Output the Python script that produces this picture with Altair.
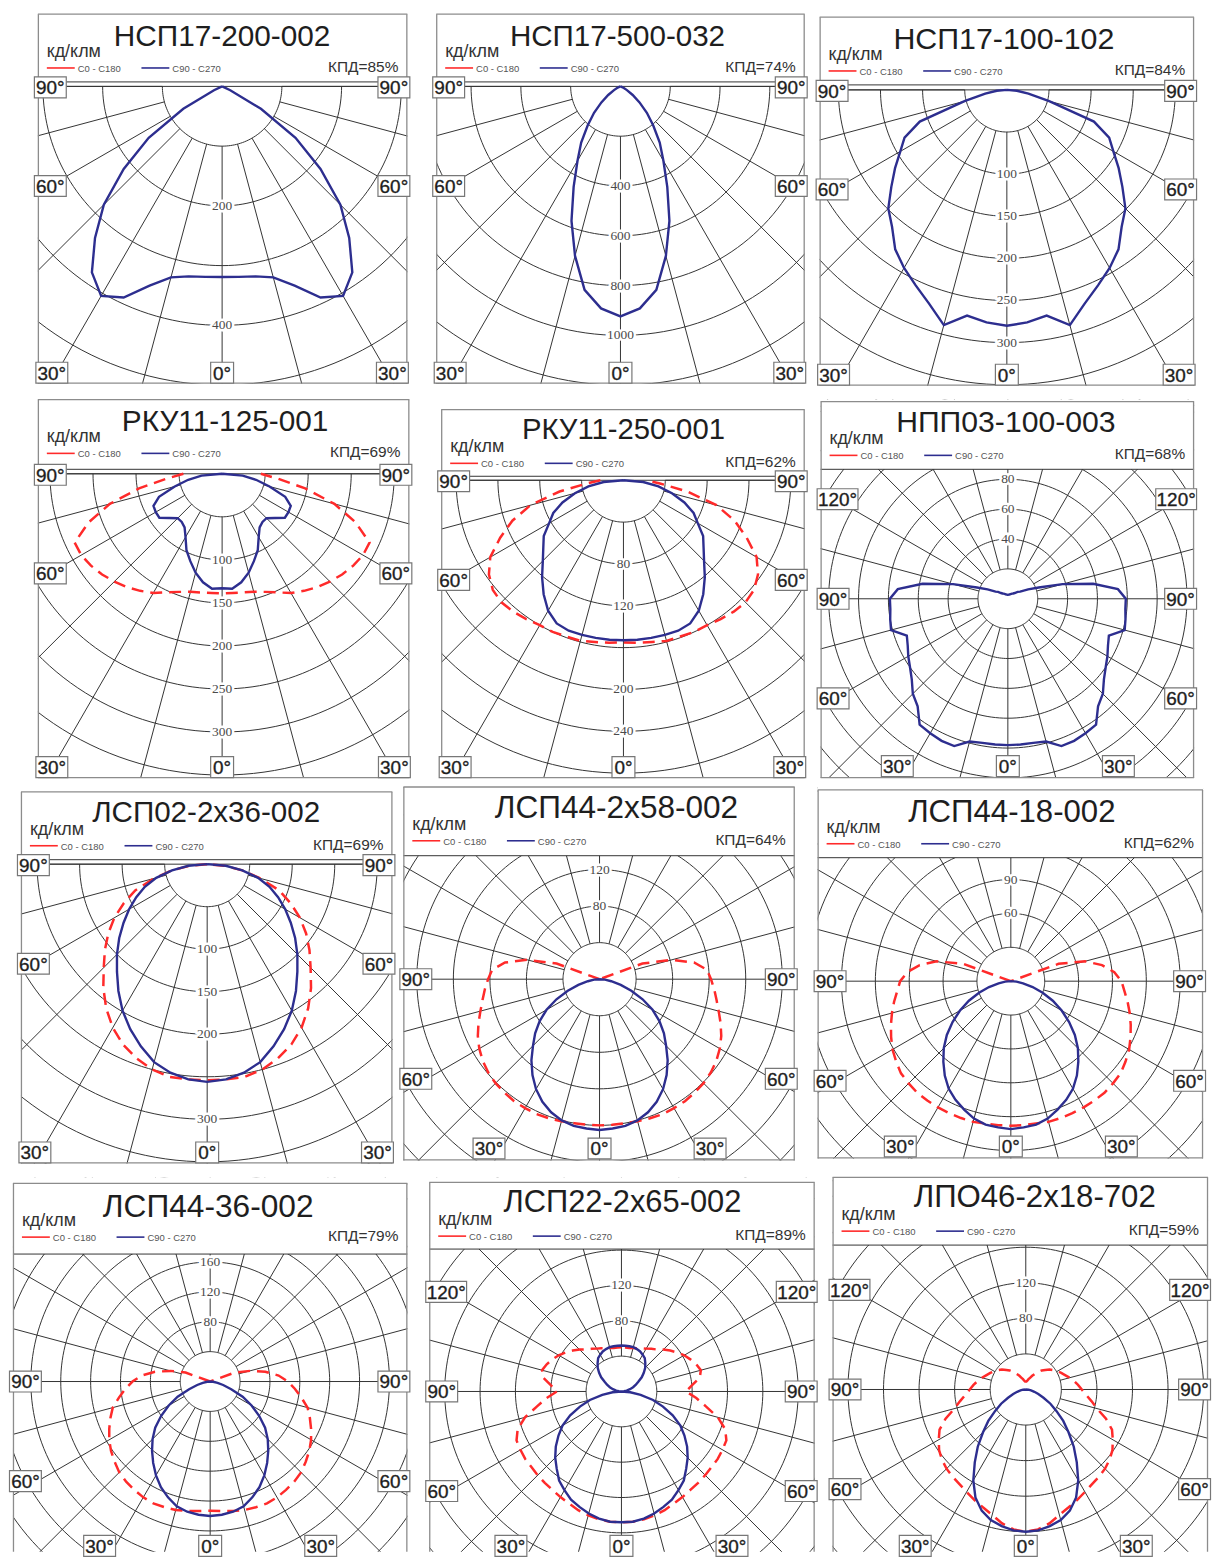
import math
import altair as alt
import pandas as pd

# ---------------- data ----------------
A_HALF = [0, 5, 10, 15, 20, 25, 30, 35, 40, 45, 50, 55, 60, 65, 70, 75, 80, 85, 90]
A_FULL = [0, 5, 10, 15, 20, 25, 30, 35, 40, 45, 50, 55, 60, 65, 70, 75, 80, 85, 90,
          95, 100, 105, 110, 115, 120, 125, 130, 135, 140, 145, 150, 155, 160, 165, 170, 175, 180]

TITLES = ["НСП17-200-002", "НСП17-500-032", "НСП17-100-102",
          "РКУ11-125-001", "РКУ11-250-001", "НПП03-100-003",
          "ЛСП02-2x36-002", "ЛСП44-2x58-002", "ЛСП44-18-002",
          "ЛСП44-36-002", "ЛСП22-2x65-002", "ЛПО46-2x18-702"]
KPD = [85, 74, 84, 69, 62, 68, 69, 64, 62, 79, 89, 59]

P1_C90 = [319, 320, 323, 331, 355, 390, 405, 380, 331, 280, 215, 150, 75, 15, 0, 0, 0, 0, 0]
P2_C90 = [924, 895, 830, 705, 575, 445, 345, 275, 205, 150, 100, 60, 30, 15, 5, 0, 0, 0, 0]
P3_C90 = [280, 277, 272, 289, 270, 256, 244, 231, 212, 199, 179, 162, 146, 134, 110, 52, 26, 12, 0]
P4_C0 = [139, 139, 140, 142, 146, 152, 160, 166, 172, 177, 182, 186, 189, 189, 165, 135, 98, 65, 45]
P4_C90 = [133, 134, 128, 119, 108, 98, 85, 76, 73, 73, 80, 89, 89, 88, 78, 57, 40, 24, 0]
P5_C0 = [155, 156, 157, 159, 159, 160, 160, 162, 164, 165, 163, 157, 147, 130, 113, 92, 62, 35, 22]
P5_C90 = [153, 153, 153, 153, 153, 151, 144, 133, 121, 109, 100, 93, 82, 74, 62, 48, 34, 19, 0]
P6_C90 = [98, 98, 98, 99, 105, 105, 104, 103, 94, 90, 84, 80, 77, 74, 72, 81, 80, 79, 79,
          74, 58, 38, 22, 15, 9.5, 8, 6, 5, 4.5, 4, 3.6, 3.3, 3, 2.9, 2.8, 2.7, 2.7]
P7_C0 = [254, 254, 254, 250, 243, 234, 222, 207, 190, 172, 157, 142, 126, 108, 90, 65, 42, 20, 0]
P7_C90 = [256, 254, 249, 241, 228, 214, 199, 182, 165, 150, 135, 120, 106, 92, 78, 62, 42, 22, 0]
P8_C0 = [160, 160, 160, 161, 162, 163, 163, 163, 162, 161, 159, 156, 152, 147, 141, 135, 130, 126, 122,
         118, 105, 82, 50, 0, 0, 0, 0, 0, 0, 0, 0, 0, 0, 0, 0, 0, 0]
P8_C90 = [165, 164, 163, 160, 155, 148, 139, 128, 116, 103, 92, 80, 67, 52, 37, 24, 13, 6, 0,
          0, 0, 0, 0, 0, 0, 0, 0, 0, 0, 0, 0, 0, 0, 0, 0, 0, 0]
P9_C0 = [128, 128, 128, 129, 129, 129, 129, 129, 129, 128, 127, 124, 121, 117, 113, 109, 105, 101, 98,
         92, 82, 68, 45, 0, 0, 0, 0, 0, 0, 0, 0, 0, 0, 0, 0, 0, 0]
P9_C90 = [131, 130, 129, 126, 121, 116, 110, 102, 93, 84, 74, 63, 52, 41, 30, 20, 11, 5, 0,
          0, 0, 0, 0, 0, 0, 0, 0, 0, 0, 0, 0, 0, 0, 0, 0, 0, 0]
P10_C0 = [173, 174, 176, 178, 179, 180, 179, 177, 175, 172, 167, 162, 156, 149, 142, 135, 124, 114, 104,
          92, 75, 55, 35, 0, 0, 0, 0, 0, 0, 0, 0, 0, 0, 0, 0, 0, 0]
P10_C90 = [180, 179, 177, 173, 165, 156, 145, 133, 121, 109, 96, 80, 64, 48, 30, 18, 10, 4, 0,
           0, 0, 0, 0, 0, 0, 0, 0, 0, 0, 0, 0, 0, 0, 0, 0, 0, 0]
P11_C0 = [148, 148, 147, 145, 143, 140, 138, 136, 135, 134, 133, 133, 132, 131, 125, 113, 97, 85, 73,
          80, 90, 93, 90, 86, 82, 77, 72, 67, 62, 59, 56, 54, 52, 51, 50, 50, 50]
P11_C90 = [148, 148, 146, 143, 139, 135, 129, 123, 114, 106, 97, 87, 77, 64, 50, 37, 22, 10, 0,
           3, 6, 10, 14, 18, 22, 28, 33, 38, 42, 46, 48, 50, 51, 52, 52, 52, 52]
P12_C0 = [160, 158, 153, 146, 141, 137, 133, 130, 128, 126, 123, 119, 113, 107, 96, 83, 75, 68, 63,
          59, 55, 51, 47, 44, 41, 38, 35, 31, 28, 24, 20, 17, 14, 12, 10, 9, 9]
P12_C90 = [160, 159, 156, 152, 145, 134, 118, 100, 84, 68, 55, 42, 32, 22, 15, 10, 6, 3, 0,
           0, 0, 0, 0, 0, 0, 0, 0, 0, 0, 0, 0, 0, 0, 0, 0, 0, 0]

C0 = [None, None, None, P4_C0, P5_C0, None, P7_C0, P8_C0, P9_C0, P10_C0, P11_C0, P12_C0]
C90 = [P1_C90, P2_C90, P3_C90, P4_C90, P5_C90, P6_C90, P7_C90, P8_C90, P9_C90, P10_C90, P11_C90, P12_C90]
FULL = [False, False, False, False, False, True, False, True, True, True, True, True]

RINGS = [
    [100, 200, 300, 400, 500, 600],
    [200, 400, 600, 800, 1000, 1200, 1400],
    [50, 100, 150, 200, 250, 300, 350, 400],
    [50, 100, 150, 200, 250, 300, 350, 400],
    [40, 80, 120, 160, 200, 240, 280, 320],
    [20, 40, 60, 80, 100, 120, 140, 160, 180],
    [50, 100, 150, 200, 250, 300, 350, 400],
    [40, 80, 120, 160, 200, 240, 280, 320, 360],
    [30, 60, 90, 120, 150, 180, 210, 240, 270],
    [40, 80, 120, 160, 200, 240, 280, 320, 360, 400, 440],
    [40, 80, 120, 160, 200, 240, 280, 320, 360],
    [40, 80, 120, 160, 200, 240, 280, 320, 360],
]
RING_LABELS = [[200, 400], [400, 600, 800, 1000], [100, 150, 200, 250, 300],
               [100, 150, 200, 250, 300], [80, 120, 200, 240], [40, 60, 80],
               [100, 150, 200, 300], [80, 120], [60, 90], [80, 120, 160], [80, 120], [80, 120]]

# ---------------- layout (page pixels) ----------------
# L, R, T, header-bottom, B, centre x, centre y, units per pixel
GEOM = [
    (37, 408, 10, 78, 381, 222, 82.5, 1.667),
    (437, 807, 10, 78, 381, 622, 82.5, 4.0),
    (822, 1198, 13, 81, 383, 1010, 86, 1.182),
    (37, 410, 395, 465, 775, 222, 469.5, 1.157),
    (442, 807, 405, 472, 775, 625, 476, 0.952),
    (823, 1198, 397, 465, 775, 1011, 595, 0.667),
    (20, 393, 787, 855, 1160, 207, 859.5, 1.171),
    (404, 797, 782, 851, 1157, 601, 975, 1.09),
    (820, 1207, 785, 853, 1155, 1014, 977, 0.882),
    (12, 408, 1178, 1249, 1548, 210, 1377, 1.333),
    (430, 817, 1177, 1244, 1548, 623, 1387, 1.127),
    (835, 1212, 1172, 1240, 1548, 1029, 1385, 1.12),
]
CUT = [False] * 9 + [True] * 3
HAS120 = [False, False, False, False, False, True, False, False, False, False, True, True]
TITLE_X = [185, 182, 185, 188, 183, 186, 186, 214, 195, 196, 194, 203]
TITLE_Y = [32, 32, 32, 32, 30, 31, 30, 31, 32, 34, 30, 30]
TITLE_SIZE = [29.9, 29.7, 30.5, 29.9, 29.4, 30.3, 29.7, 31.7, 31.3, 31.8, 31.0, 31.3]

BLUE = "#2d2e8f"
RED = "#ff2a2a"
GRID = "#333333"
FRAME = "#8c8c8c"
TXT = "#1e1e1e"
SANS = "Liberation Sans"

ONE = pd.DataFrame({"o": [0]})


def curve_df(vals, angles):
    rows = []
    for s in (-1, 1):
        for a, v in zip(angles, vals):
            if s == -1 and a == 0:
                continue
            rows.append({"a": a, "v": v, "s": s, "o": s * a})
    return pd.DataFrame(rows)


def spacer(w, h):
    return alt.Chart(ONE).mark_rule(opacity=0).encode(
        x=alt.value(0), y=alt.value(0), y2=alt.value(1)).properties(width=w, height=h)


def panel(i, top):
    L, R, T, HB, B, cx, cy, k = GEOM[i]
    full = FULL[i]
    dt = T - top            # box top inside the view
    W = R - L
    H = B - top
    hh = HB - top
    cxr = cx - L
    cyr = cy - top
    sx = alt.Scale(domain=[-cxr * k, (W - cxr) * k], nice=False, zero=False)
    sy = alt.Scale(domain=[-(H - cyr) * k, cyr * k], nice=False, zero=False)

    def X(f):
        return alt.X(f, type="quantitative", scale=sx, axis=None)

    def Y(f):
        return alt.Y(f, type="quantitative", scale=sy, axis=None)

    rings = RINGS[i]
    tmax = 180 if full else 90
    rr = []
    for c in rings:
        for t in range(-tmax, tmax + 1, 2):
            rr.append({"c": c, "t": t, "x": c * math.sin(math.radians(t)),
                       "y": -c * math.cos(math.radians(t))})
    ring_layer = alt.Chart(pd.DataFrame(rr)).mark_line(
        clip=True, color=GRID, strokeWidth=1).encode(
        x=X("x"), y=Y("y"), detail="c:N", order=alt.Order("t:Q"))

    r0 = rings[0]
    r1 = rings[-1] * 3
    angs = range(-165, 181, 15) if full else range(-90, 91, 15)
    sp = []
    for a in angs:
        s, c = math.sin(math.radians(a)), math.cos(math.radians(a))
        sp.append({"a": a, "x1": r0 * s, "y1": -r0 * c, "x2": r1 * s, "y2": -r1 * c})
    spoke_layer = alt.Chart(pd.DataFrame(sp)).mark_rule(
        clip=True, color=GRID, strokeWidth=1).encode(
        x=X("x1"), y=Y("y1"), x2=alt.X2("x2"), y2=alt.Y2("y2"))

    layers = [ring_layer, spoke_layer]
    if not full:
        layers.append(alt.Chart(ONE).mark_rule(color=GRID, strokeWidth=1).encode(
            x=alt.value(0), x2=alt.value(W), y=alt.value(cyr)))

    sign = 1 if full else -1
    lab = pd.DataFrame({"v": RING_LABELS[i], "x": [0] * len(RING_LABELS[i]),
                        "y": [sign * v for v in RING_LABELS[i]]})
    layers.append(alt.Chart(lab).mark_text(
        font="Liberation Serif", fontSize=13.5, color="white", stroke="white",
        strokeWidth=5, baseline="middle").encode(x=X("x"), y=Y("y"), text="v:N"))
    layers.append(alt.Chart(lab).mark_text(
        font="Liberation Serif", fontSize=13.5, color="#4a4a4a",
        baseline="middle").encode(x=X("x"), y=Y("y"), text="v:N"))

    angles = A_FULL if full else A_HALF
    calc = dict(x="datum.s*datum.v*sin(datum.a*PI/180)", y="-datum.v*cos(datum.a*PI/180)")
    if C0[i] is not None:
        layers.append(alt.Chart(curve_df(C0[i], angles)).transform_calculate(**calc).mark_line(
            clip=True, color=RED, strokeWidth=2.5, strokeDash=[12, 7]).encode(
            x=X("x"), y=Y("y"), order=alt.Order("o:Q")))
    layers.append(alt.Chart(curve_df(C90[i], angles)).transform_calculate(**calc).mark_line(
        clip=True, color=BLUE, strokeWidth=2.4).encode(
        x=X("x"), y=Y("y"), order=alt.Order("o:Q")))

    # header cover, header line and frame
    layers.append(alt.Chart(ONE).mark_rect(color="white").encode(
        x=alt.value(0), x2=alt.value(W), y=alt.value(0), y2=alt.value(hh)))
    layers.append(alt.Chart(ONE).mark_rule(color=GRID, strokeWidth=1).encode(
        x=alt.value(0), x2=alt.value(W), y=alt.value(hh)))
    layers.append(alt.Chart(ONE).mark_rule(color=FRAME, strokeWidth=1.3).encode(
        x=alt.value(0), x2=alt.value(W), y=alt.value(dt)))
    layers.append(alt.Chart(ONE).mark_rule(color=FRAME, strokeWidth=1.3).encode(
        x=alt.value(0.5), y=alt.value(dt), y2=alt.value(H)))
    layers.append(alt.Chart(ONE).mark_rule(color=FRAME, strokeWidth=1.3).encode(
        x=alt.value(W - 0.5), y=alt.value(dt), y2=alt.value(H)))
    if not CUT[i]:
        layers.append(alt.Chart(ONE).mark_rule(color=FRAME, strokeWidth=1.3).encode(
            x=alt.value(0), x2=alt.value(W), y=alt.value(H - 0.5)))

    # angle labels
    if not full:
        items = [("90°", 12.5, cyr + 1), ("90°", W - 13.5, cyr + 1),
                 ("60°", 12.5, cyr + 100), ("60°", W - 13.5, cyr + 100),
                 ("30°", 14, H - 11), ("30°", W - 15, H - 11), ("0°", cxr, H - 11)]
    else:
        yb = H - 6 if CUT[i] else H - 12
        items = [("90°", 12.5, cyr), ("90°", W - 13.5, cyr),
                 ("60°", 12.5, cyr + 100), ("60°", W - 13.5, cyr + 100),
                 ("30°", cxr - 111, yb), ("0°", cxr, yb), ("30°", cxr + 111, yb)]
        if HAS120[i]:
            items += [("120°", 17, cyr - 100), ("120°", W - 18, cyr - 100)]
    rows = []
    for t, px, py in items:
        w = {"0°": 23, "120°": 41}.get(t, 32)
        rows.append({"t": t, "x": (px - cxr) * k, "y": (cyr - py) * k,
                     "x1": (px - w / 2 - cxr) * k, "x2": (px + w / 2 - cxr) * k,
                     "y1": (cyr - py + 10.5) * k, "y2": (cyr - py - 10.5) * k})
    adf = pd.DataFrame(rows)
    layers.append(alt.Chart(adf).mark_rect(fill="white", stroke="#777777", strokeWidth=1.2).encode(
        x=X("x1"), x2=alt.X2("x2"), y=Y("y1"), y2=alt.Y2("y2")))
    layers.append(alt.Chart(adf).mark_text(font=SANS, fontSize=19, color=TXT, stroke=TXT,
                                           strokeWidth=0.35, baseline="middle", dy=1).encode(
        x=X("x"), y=Y("y"), text="t:N"))

    # header texts
    layers.append(alt.Chart(ONE).mark_text(font=SANS, fontSize=TITLE_SIZE[i], color=TXT,
                                           align="center", baseline="alphabetic").encode(
        x=alt.value(TITLE_X[i]), y=alt.value(dt + TITLE_Y[i]), text=alt.value(TITLES[i])))
    layers.append(alt.Chart(ONE).mark_text(font=SANS, fontSize=18, color="#333333",
                                           align="left", baseline="alphabetic").encode(
        x=alt.value(9), y=alt.value(dt + 43), text=alt.value("кд/клм")))
    layers.append(alt.Chart(ONE).mark_rule(color=RED, strokeWidth=1.6).encode(
        x=alt.value(9), x2=alt.value(37), y=alt.value(dt + 54)))
    layers.append(alt.Chart(ONE).mark_rule(color=BLUE, strokeWidth=1.6).encode(
        x=alt.value(104), x2=alt.value(132), y=alt.value(dt + 54)))
    layers.append(alt.Chart(ONE).mark_text(font=SANS, fontSize=9.5, color="#555555",
                                           align="left", baseline="middle").encode(
        x=alt.value(40), y=alt.value(dt + 55), text=alt.value("C0 - C180")))
    layers.append(alt.Chart(ONE).mark_text(font=SANS, fontSize=9.5, color="#555555",
                                           align="left", baseline="middle").encode(
        x=alt.value(135), y=alt.value(dt + 55), text=alt.value("C90 - C270")))
    layers.append(alt.Chart(ONE).mark_text(font=SANS, fontSize=15.5, color="#333333",
                                           align="right", baseline="alphabetic").encode(
        x=alt.value(W - 9), y=alt.value(dt + 58), text=alt.value("КПД=%d%%" % KPD[i])))

    return alt.layer(*layers).properties(width=W, height=H)


ROWS = [[0, 1, 2], [3, 4, 5], [6, 7, 8], [9, 10, 11]]
blocks = []
prev_bottom = 8
for row in ROWS:
    top = min(GEOM[i][2] for i in row)
    if top - prev_bottom > 0:
        blocks.append(spacer(1, top - prev_bottom))
    cells = []
    prev_r = 8
    for i in row:
        L, R = GEOM[i][0], GEOM[i][1]
        if L - prev_r > 0:
            cells.append(spacer(L - prev_r, 1))
        cells.append(panel(i, top))
        prev_r = R
    blocks.append(alt.hconcat(*cells, spacing=0, bounds="flush"))
    prev_bottom = max(GEOM[i][4] for i in row)

chart = alt.vconcat(*blocks, spacing=0).properties(
    padding=0).configure_view(strokeWidth=0)

chart.save("out.html", embed_options={"renderer": "svg", "actions": False})
